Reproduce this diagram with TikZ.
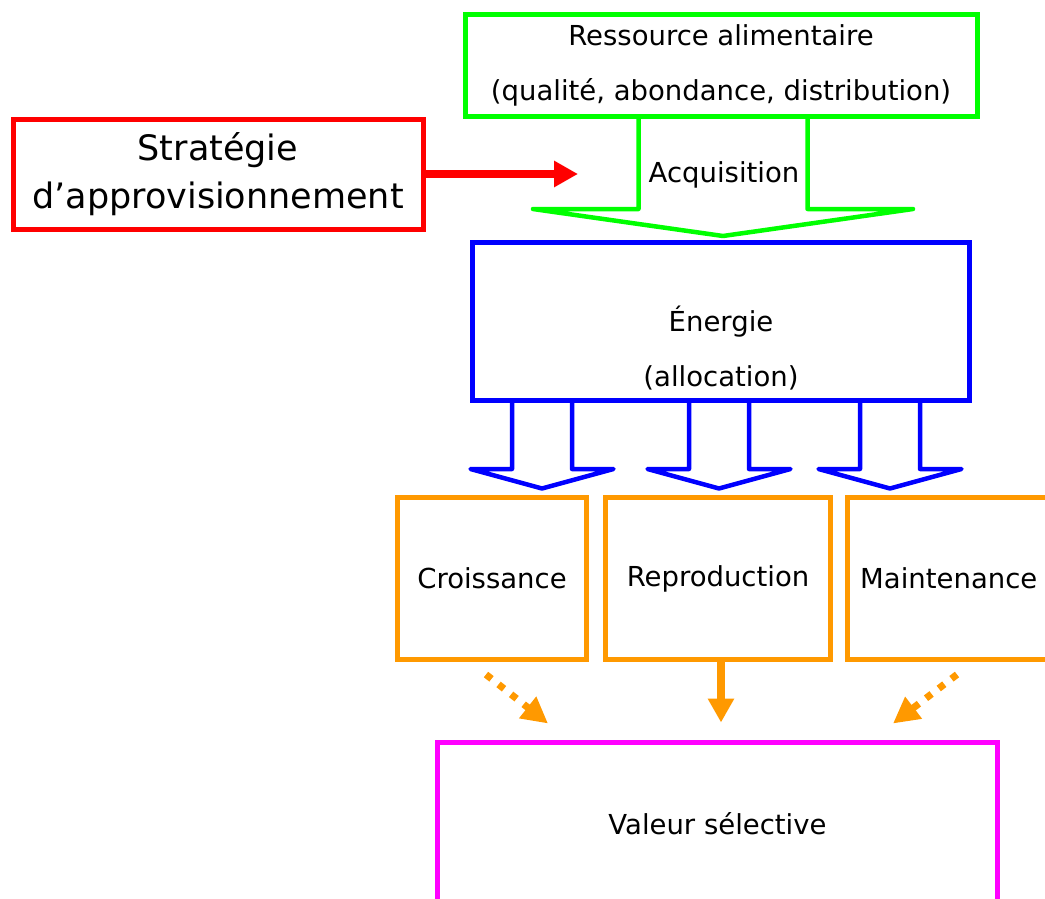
\documentclass[tikz,border=0pt]{standalone}
\usepackage{fontspec}
\setmainfont{DejaVu Sans}
\usetikzlibrary{arrows.meta,calc,positioning}
\definecolor{vert}{RGB}{0,255,0}
\definecolor{bleu}{RGB}{0,0,255}
\definecolor{rouge}{RGB}{255,0,0}
\definecolor{orangeA}{RGB}{255,153,0}
\definecolor{rose}{RGB}{255,0,255}

\begin{document}
\begin{tikzpicture}[x=1pt, y=-1pt,
    txt/.style={font=\fontsize{27.5}{55}\selectfont, align=center},
    box/.style={draw, line width=5pt, inner sep=0pt, txt},
    fat/.style={line width=4.5pt, line join=round},
    flow/.style={line width=8pt, -{Triangle[length=24pt,width=25pt]}},
    dots/.style={line width=7pt, dash pattern=on 7pt off 9pt, -{Triangle[length=26pt,width=26pt]}}]

        \useasboundingbox (0,0) rectangle (1045,899);
        \clip (0,0) rectangle (1045,899);

        % Resource and foraging (top)
        \node[box, draw=vert, minimum width=512pt, minimum height=101pt] (ressource) at (721,65.5)
            {Ressource alimentaire\\(qualité, abondance, distribution)};
        \node[box, draw=rouge, minimum width=410pt, minimum height=110pt,
              font=\fontsize{35}{48}\selectfont] (strategie) at (218,174)
            {Stratégie\\d’approvisionnement};
        \coordinate (cible) at (578,174);

        \draw[fat, draw=vert] ($(ressource.south)+(-82.5,0)$) -- ++(0,90.5) -- ++(-105.5,0)
            -- ++(190,27) -- ++(190,-27) -- ++(-105.5,0) -- ++(0,-90.5);
        \node[txt] (acq) at (724,175) {Acquisition};
        \draw[flow, draw=rouge] (strategie.east) -- (cible);

        % Energy
        \node[box, draw=bleu, minimum width=497pt, minimum height=158pt] (energie) at (721,321.5) {};
        \node[txt] (alloc) at (721,348) {Énergie\\(allocation)};

        \foreach \dx in {-179,-2,169}
            \draw[fat, draw=bleu] ($(energie.south)+(\dx-30,0)$) -- ++(0,66) -- ++(-41.5,0)
                -- ++(71.5,19.5) -- ++(71.5,-19.5) -- ++(-41.5,0) -- ++(0,-66);

        % Allocation targets
        \node[box, draw=orangeA, minimum width=189pt, minimum height=162pt] (croissance) at (492,578.5) {Croissance};
        \node[box, draw=orangeA, minimum width=225pt, minimum height=162pt] (reproduction) at (718,578.5) {Reproduction};
        \node[box, draw=orangeA, minimum width=202.5pt, minimum height=162pt] (maintenance) at (948.75,578.5) {Maintenance};

        % Fitness (bottom)
        \node[box, draw=rose, minimum width=560pt, minimum height=162.5pt] (valeur) at (717.5,823.75) {Valeur sélective};

        \draw[dots, draw=orangeA] ($(croissance.south)+(-6,12.5)$) -- ($(valeur.north)+(-169.5,-16.5)$);
        \draw[flow, draw=orangeA] ($(reproduction.south)+(3,0)$) -- ($(valeur.north)+(3.5,-17.5)$);
        \draw[dots, draw=orangeA] ($(maintenance.south)+(8.25,12.5)$) -- ($(valeur.north)+(175.5,-16.5)$);

\end{tikzpicture}
\end{document}
